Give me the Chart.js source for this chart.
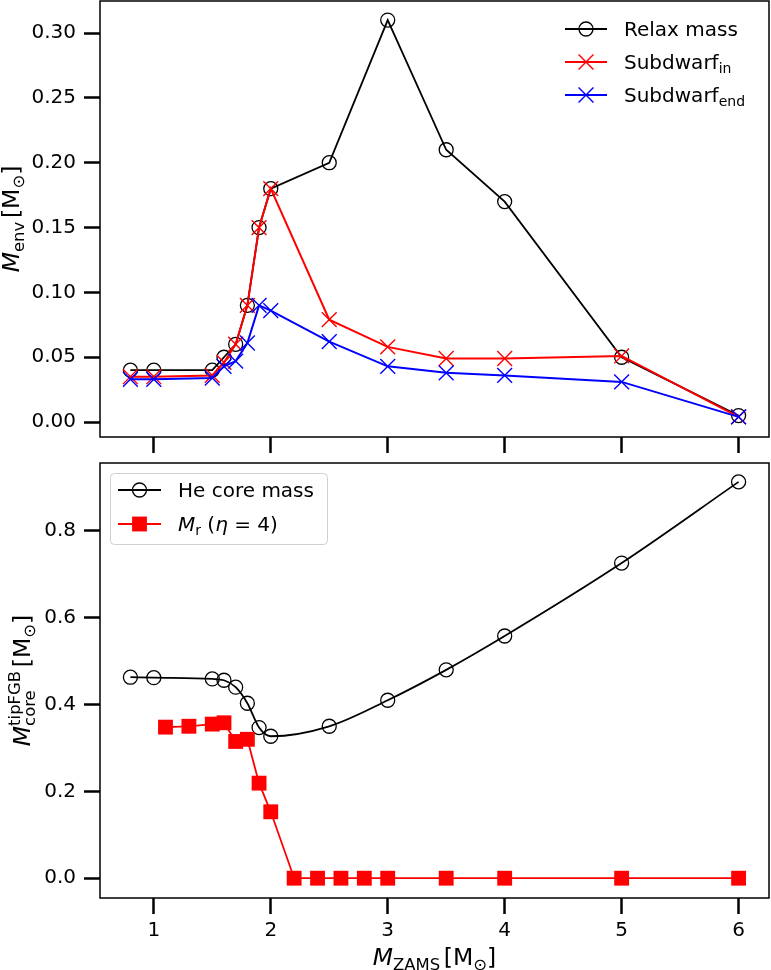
<!DOCTYPE html>
<html>
<head>
<meta charset="utf-8">
<script src="https://cdn.jsdelivr.net/npm/chart.js@4.4.1/dist/chart.umd.min.js"></script>
<style>
  body { margin: 0; background: #fff; }
  #wrap { position: relative; width: 771px; height: 970px; }
  canvas { position: absolute; left: 0; }
</style>
</head>
<body>
<div id="wrap">
  <canvas id="envChart" style="top:0px" width="771" height="455"></canvas>
  <canvas id="coreChart" style="top:455px" width="771" height="515"></canvas>
</div>
<script>
// ---- data ----
const massEnv = [0.8, 1.0, 1.5, 1.6, 1.7, 1.8, 1.9, 2.0, 2.5, 3.0, 3.5, 4.0, 5.0, 6.0];
const relaxMass = [0.040, 0.040, 0.040, 0.050, 0.060, 0.090, 0.150, 0.180, 0.200, 0.310, 0.210, 0.170, 0.050, 0.005];
const subdwarfIn = [0.035, 0.035, 0.036, 0.046, 0.060, 0.090, 0.150, 0.180, 0.079, 0.058, 0.049, 0.049, 0.051, 0.004];
const subdwarfEnd = [0.033, 0.033, 0.034, 0.043, 0.047, 0.061, 0.090, 0.086, 0.062, 0.043, 0.038, 0.036, 0.031, 0.004];

const massCore = [0.8, 1.0, 1.5, 1.6, 1.7, 1.8, 1.9, 2.0, 2.5, 3.0, 3.5, 4.0, 5.0, 6.0];
const heCoreMass = [0.463, 0.462, 0.459, 0.456, 0.440, 0.403, 0.347, 0.327, 0.350, 0.410, 0.480, 0.558, 0.726, 0.913];
const massR = [1.1, 1.3, 1.5, 1.6, 1.7, 1.8, 1.9, 2.0, 2.2, 2.4, 2.6, 2.8, 3.0, 3.5, 4.0, 5.0, 6.0];
const mrEta4 = [0.348, 0.350, 0.355, 0.358, 0.315, 0.320, 0.219, 0.153, 0, 0, 0, 0, 0, 0, 0, 0, 0];

const xTicks = [1, 2, 3, 4, 5, 6];
const envTicks = [0, 0.05, 0.10, 0.15, 0.20, 0.25, 0.30];
const coreTicks = [0, 0.2, 0.4, 0.6, 0.8];

const FONT = "'DejaVu Sans', sans-serif";

function pairs(xs, ys) {
  return xs.map((x, i) => ({ x: x, y: ys[i] }));
}

function fontStr(size, italic) {
  return (italic ? 'italic ' : '') + size + 'px ' + FONT;
}

// rich text: segments {t, it, sc, dy} or {sup, sub} stacked
function segWidth(ctx, s, size) {
  if (s.sup !== undefined) {
    ctx.font = fontStr(size * 0.7, false);
    return Math.max(ctx.measureText(s.sup).width, ctx.measureText(s.sub).width);
  }
  ctx.font = fontStr(size * (s.sc || 1), s.it);
  return ctx.measureText(s.t).width;
}

function drawRich(ctx, segs, x, y, size, align) {
  const total = segs.reduce((w, s) => w + segWidth(ctx, s, size), 0);
  let cx = align === 'center' ? x - total / 2 : x;
  ctx.textAlign = 'left';
  ctx.textBaseline = 'alphabetic';
  ctx.fillStyle = '#000';
  segs.forEach(s => {
    const w = segWidth(ctx, s, size);
    if (s.sup !== undefined) {
      ctx.font = fontStr(size * 0.7, false);
      ctx.fillText(s.sup, cx, y - size * 0.42);
      ctx.fillText(s.sub, cx, y + size * 0.2);
    } else {
      ctx.font = fontStr(size * (s.sc || 1), s.it);
      ctx.fillText(s.t, cx, y + (s.dy || 0) * size);
    }
    cx += w;
  });
}

const solarUnit = [
  { t: ' ', sc: 0.5 }, { t: '[M' }, { t: '\u2299', sc: 0.7, dy: 0.2 }, { t: ']' }
];

// axis titles + frame
const decorPlugin = {
  id: 'decor',
  afterDraw(chart, args, opts) {
    const ctx = chart.ctx;
    const a = chart.chartArea;
    ctx.save();
    ctx.strokeStyle = '#000';
    ctx.lineWidth = 1.5;
    ctx.strokeRect(a.left, a.top, a.right - a.left, a.bottom - a.top);
    (opts.titles || []).forEach(tt => {
      ctx.save();
      ctx.translate(tt.x, tt.y);
      if (tt.rotate) ctx.rotate(-Math.PI / 2);
      drawRich(ctx, tt.segs, 0, 0, tt.size, 'center');
      ctx.restore();
    });
    ctx.restore();
  }
};

function drawMarker(ctx, ds, x, y) {
  const r = ds.pointRadius;
  ctx.lineWidth = ds.pointBorderWidth;
  ctx.strokeStyle = ds.borderColor;
  ctx.fillStyle = ds.pointBackgroundColor;
  ctx.beginPath();
  if (ds.pointStyle === 'circle') {
    ctx.arc(x, y, r, 0, Math.PI * 2);
    ctx.stroke();
  } else if (ds.pointStyle === 'crossRot') {
    const o = r * Math.SQRT1_2;
    ctx.moveTo(x - o, y - o); ctx.lineTo(x + o, y + o);
    ctx.moveTo(x - o, y + o); ctx.lineTo(x + o, y - o);
    ctx.stroke();
  } else if (ds.pointStyle === 'rect') {
    const h = r * Math.SQRT1_2;
    ctx.fillRect(x - h, y - h, 2 * h, 2 * h);
  }
}

const legendPlugin = {
  id: 'richLegend',
  afterDraw(chart, args, opts) {
    const ctx = chart.ctx;
    ctx.save();
    if (opts.frame) {
      const f = opts.frame;
      ctx.beginPath();
      ctx.roundRect(f.x, f.y, f.w, f.h, 4);
      ctx.fillStyle = 'rgba(255,255,255,0.8)';
      ctx.fill();
      ctx.strokeStyle = '#d0d0d0';
      ctx.lineWidth = 1;
      ctx.stroke();
    }
    opts.items.forEach((it, i) => {
      const ds = chart.data.datasets[it.ds];
      const y = opts.y + i * opts.dy;
      ctx.strokeStyle = ds.borderColor;
      ctx.lineWidth = ds.borderWidth;
      ctx.beginPath();
      ctx.moveTo(opts.x0, y);
      ctx.lineTo(opts.x1, y);
      ctx.stroke();
      drawMarker(ctx, ds, (opts.x0 + opts.x1) / 2, y);
      drawRich(ctx, it.segs, opts.tx, y + 7.3, 20, 'left');
    });
    ctx.restore();
  }
};

function xScale(showLabels, height) {
  return {
    type: 'linear',
    min: 0.54,
    max: 6.26,
    afterBuildTicks: s => { s.ticks = xTicks.map(v => ({ value: v })); },
    afterFit: s => {
      s.height = height;
      s.paddingLeft = 0; s.paddingRight = 0; s.paddingTop = 0; s.paddingBottom = 0;
    },
    grid: { drawOnChartArea: false, drawTicks: true, tickLength: 16, tickWidth: 2.5, tickColor: '#000' },
    border: { display: false },
    ticks: {
      display: showLabels,
      padding: 5,
      color: '#000',
      font: { family: FONT, size: 20 },
      maxRotation: 0,
      callback: v => String(v)
    }
  };
}

function yScale(min, max, tickVals, digits) {
  return {
    type: 'linear',
    min: min,
    max: max,
    afterBuildTicks: s => { s.ticks = tickVals.map(v => ({ value: v })); },
    afterFit: s => {
      s.width = 100;
      s.paddingLeft = 0; s.paddingRight = 0; s.paddingTop = 0; s.paddingBottom = 0;
    },
    grid: { drawOnChartArea: false, drawTicks: true, tickLength: 16, tickWidth: 2.5, tickColor: '#000' },
    border: { display: false },
    ticks: {
      padding: 8,
      color: '#000',
      font: { family: FONT, size: 20 },
      callback: v => Number(v).toFixed(digits)
    }
  };
}

const common = {
  responsive: false,
  animation: false,
  events: [],
  plugins: { legend: { display: false }, tooltip: { enabled: false } }
};

// ---- top panel: envelope mass ----
new Chart(document.getElementById('envChart'), {
  type: 'line',
  data: {
    datasets: [
      {
        label: 'Relax mass', data: pairs(massEnv, relaxMass), order: 3,
        borderColor: '#000000', borderWidth: 1.8,
        pointStyle: 'circle', pointRadius: 7, pointBorderWidth: 1.3,
        pointBackgroundColor: 'rgba(0,0,0,0)'
      },
      {
        label: 'Subdwarf in', data: pairs(massEnv, subdwarfIn), order: 2,
        borderColor: '#ff0000', borderWidth: 2,
        pointStyle: 'crossRot', pointRadius: 10.5, pointBorderWidth: 1.4,
        pointBackgroundColor: '#ff0000'
      },
      {
        label: 'Subdwarf end', data: pairs(massEnv, subdwarfEnd), order: 1,
        borderColor: '#0000ff', borderWidth: 2,
        pointStyle: 'crossRot', pointRadius: 10.5, pointBorderWidth: 1.4,
        pointBackgroundColor: '#0000ff'
      }
    ]
  },
  options: Object.assign({}, common, {
    layout: { autoPadding: false, padding: { top: 1, right: 2, left: 0, bottom: 0 } },
    scales: {
      x: xScale(false, 18),
      y: yScale(-0.0115, 0.3247, envTicks, 2)
    },
    plugins: Object.assign({}, common.plugins, {
      decor: {
        titles: [{
          x: 19, y: 219, rotate: true, size: 23.5,
          segs: [{ t: 'M', it: true }, { t: 'env', sc: 0.7, dy: 0.2 }].concat(solarUnit)
        }]
      },
      richLegend: {
        x0: 565, x1: 607, tx: 624, y: 29, dy: 33,
        items: [
          { ds: 0, segs: [{ t: 'Relax mass' }] },
          { ds: 1, segs: [{ t: 'Subdwarf' }, { t: 'in', sc: 0.7, dy: 0.2 }] },
          { ds: 2, segs: [{ t: 'Subdwarf' }, { t: 'end', sc: 0.7, dy: 0.2 }] }
        ]
      }
    })
  }),
  plugins: [decorPlugin, legendPlugin]
});

// ---- bottom panel: core mass at tip of FGB ----
new Chart(document.getElementById('coreChart'), {
  type: 'line',
  data: {
    datasets: [
      {
        label: 'He core mass', data: pairs(massCore, heCoreMass), order: 2,
        borderColor: '#000000', borderWidth: 1.8, cubicInterpolationMode: 'monotone',
        pointStyle: 'circle', pointRadius: 7, pointBorderWidth: 1.3,
        pointBackgroundColor: 'rgba(0,0,0,0)'
      },
      {
        label: 'Mr (eta = 4)', data: pairs(massR, mrEta4), order: 1,
        borderColor: '#ff0000', borderWidth: 1.8,
        pointStyle: 'rect', pointRadius: 10.5, pointBorderWidth: 0,
        pointBackgroundColor: '#ff0000'
      }
    ]
  },
  options: Object.assign({}, common, {
    layout: { autoPadding: false, padding: { top: 8, right: 2, left: 0, bottom: 0 } },
    scales: {
      x: xScale(true, 72),
      y: yScale(-0.0456, 0.9565, coreTicks, 1)
    },
    plugins: Object.assign({}, common.plugins, {
      decor: {
        titles: [
          {
            x: 30, y: 225.5, rotate: true, size: 23.5,
            segs: [{ t: 'M', it: true }, { sup: 'tipFGB', sub: 'core' }].concat(solarUnit)
          },
          {
            x: 434.5, y: 510, rotate: false, size: 23.5,
            segs: [{ t: 'M', it: true }, { t: 'ZAMS', sc: 0.7, dy: 0.2 }].concat(solarUnit)
          }
        ]
      },
      richLegend: {
        x0: 118, x1: 161, tx: 178, y: 35, dy: 34,
        frame: { x: 110.5, y: 18.5, w: 217, h: 71 },
        items: [
          { ds: 0, segs: [{ t: 'He core mass' }] },
          { ds: 1, segs: [{ t: 'M', it: true }, { t: 'r', sc: 0.7, dy: 0.2 }, { t: ' (', sc: 1 }, { t: '\u03b7', it: true }, { t: ' = 4)' }] }
        ]
      }
    })
  }),
  plugins: [decorPlugin, legendPlugin]
});
</script>
</body>
</html>
